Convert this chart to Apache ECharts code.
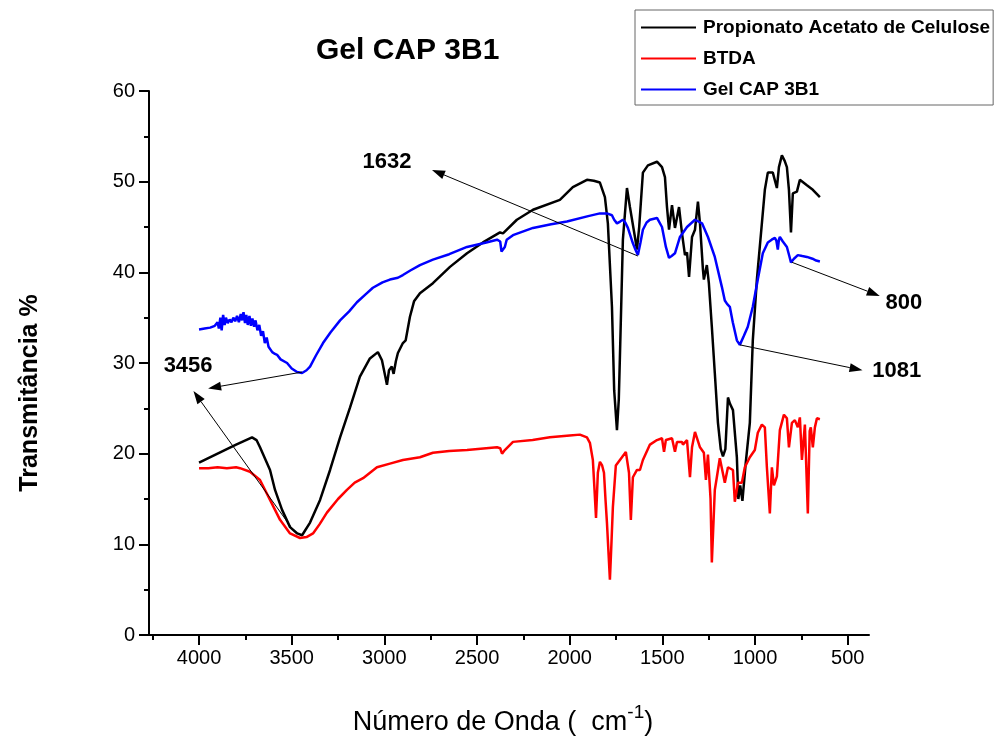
<!DOCTYPE html>
<html>
<head>
<meta charset="utf-8">
<script src="https://cdn.jsdelivr.net/npm/echarts@6/dist/echarts.min.js"></script>
<style>
html,body{margin:0;padding:0;background:#fff;}
#chart{width:994px;height:738px;}
</style>
</head>
<body>
<div id="chart"></div>
<script>
// ---------- DATA ----------
const seriesNames = ['Propionato Acetato de Celulose', 'BTDA', 'Gel CAP 3B1'];

const wavenumberCAP = [4000,3900,3800,3714,3690,3671,3617,3590,3552,3509,3470,3444,3401,3347,3293,3239,3185,3132,3078,3035,3013,2995,2986,2975,2960,2950,2938,2927,2900,2885,2878,2862,2840,2808,2738,2646,2554,2468,2376,2360,2285,2198,2053,1983,1907,1870,1837,1810,1794,1772,1760,1745,1735,1729,1713,1691,1675,1648,1637,1625,1605,1578,1529,1502,1486,1475,1464,1448,1432,1410,1394,1378,1367,1356,1340,1324,1308,1297,1281,1276,1260,1249,1233,1217,1200,1185,1173,1160,1146,1135,1119,1098,1090,1080,1068,1050,1028,1012,990,963,947,931,904,882,871,855,840,828,817,806,796,774,758,720,688,650];
const transmittanceCAP = [19.0,20.0,21.0,21.8,21.5,20.7,18.2,16.0,13.8,11.9,11.2,11.0,12.4,14.9,18.2,21.8,25.1,28.5,30.5,31.2,30.3,28.5,27.6,29.2,29.6,28.8,30.2,31.1,32.2,32.5,32.4,35.1,36.8,37.7,38.8,40.6,42.1,43.3,44.4,44.3,45.8,46.9,48.0,49.4,50.2,50.1,49.9,48.3,45.4,36.2,27.0,22.6,26.0,30.7,43.6,49.3,47.2,43.9,42.5,45.0,51.0,51.8,52.2,51.6,50.5,47.2,44.7,47.4,44.9,47.2,44.3,41.9,42.2,39.5,43.9,44.7,47.8,45.4,40.3,39.2,40.8,38.8,34.0,28.9,23.4,20.5,19.7,20.5,26.2,25.5,24.8,19.6,15.0,16.5,14.8,19.0,23.4,32.5,39.2,45.4,49.1,51.0,51.0,49.3,51.6,52.9,52.3,51.6,49.1,44.4,48.7,48.9,50.2,49.6,49.1,48.3];

const wavenumberBTDA = [4000,3950,3900,3850,3800,3779,3725,3671,3617,3563,3509,3455,3420,3385,3350,3310,3250,3202,3160,3115,3040,2970,2900,2808,2738,2650,2554,2392,2375,2365,2350,2306,2200,2107,2000,1945,1907,1891,1875,1866,1858,1848,1837,1825,1815,1807,1799,1783,1775,1767,1751,1718,1697,1680,1670,1659,1637,1621,1605,1567,1529,1502,1491,1481,1448,1432,1421,1394,1389,1367,1351,1340,1324,1297,1276,1265,1254,1240,1233,1217,1206,1190,1163,1146,1119,1109,1092,1071,1055,1028,1001,985,963,947,936,920,909,898,882,866,844,828,817,801,785,769,758,747,731,715,705,699,688,677,666,650];
const transmittanceBTDA = [18.4,18.4,18.5,18.4,18.5,18.4,18.0,17.1,14.9,12.7,11.2,10.7,10.8,11.2,12.2,13.5,15.0,16.0,16.8,17.3,18.5,18.9,19.3,19.6,20.1,20.3,20.4,20.7,20.6,20.0,20.4,21.3,21.5,21.8,22.0,22.1,21.8,21.2,19.3,16.0,12.9,17.9,19.1,18.7,17.9,15.0,12.4,6.1,10.0,14.1,18.7,19.6,20.2,17.9,12.7,17.4,18.2,18.2,19.3,21.0,21.5,21.7,20.2,21.5,21.7,20.2,21.3,21.3,21.0,21.5,17.4,20.7,22.4,20.7,20.1,17.1,19.9,15.0,8.0,16.0,17.4,19.5,16.8,18.5,18.2,14.7,16.8,16.8,18.5,19.6,20.4,22.3,23.2,22.9,18.5,13.4,18.5,16.5,17.5,22.6,24.3,23.9,20.7,23.4,23.7,22.9,24.0,19.3,23.2,13.4,22.5,22.9,20.7,22.9,23.9,23.8];

const wavenumberGel = [4000,3970,3940,3915,3900,3893,3885,3878,3870,3862,3855,3845,3835,3825,3815,3805,3795,3785,3775,3768,3760,3752,3745,3737,3728,3720,3712,3703,3695,3685,3675,3665,3655,3645,3635,3625,3615,3605,3590,3579,3560,3525,3500,3471,3444,3420,3401,3370,3331,3290,3239,3190,3148,3100,3062,3010,2970,2927,2900,2860,2808,2738,2650,2554,2450,2392,2375,2368,2360,2350,2340,2306,2198,2100,2015,1900,1837,1799,1772,1760,1745,1728,1713,1700,1686,1659,1645,1632,1618,1605,1585,1567,1529,1502,1481,1464,1450,1432,1405,1367,1324,1286,1254,1217,1179,1163,1150,1136,1120,1098,1082,1060,1039,1012,985,958,931,910,893,885,877,871,866,850,828,815,806,790,769,745,720,690,670,650];
const transmittanceGel = [33.7,33.8,33.9,34.1,34.5,33.8,35.0,33.6,35.3,34.2,35.0,34.4,34.8,34.5,35.0,34.6,35.2,34.5,35.4,34.7,35.6,34.4,35.3,34.2,35.2,34.1,34.9,34.0,34.7,33.6,34.2,33.0,33.5,32.2,32.8,31.8,32.0,31.2,31.0,30.9,30.4,30.0,29.4,29.0,28.9,29.2,29.6,30.8,32.2,33.4,34.7,35.7,36.7,37.6,38.3,38.9,39.2,39.4,39.7,40.2,40.8,41.4,42.0,42.8,43.3,43.6,43.4,42.3,42.2,42.8,43.6,44.1,44.9,45.3,45.6,46.2,46.5,46.5,46.3,45.8,45.4,45.6,45.8,45.5,44.9,43.2,42.5,41.9,43.3,44.7,45.5,45.8,46.0,45.0,42.8,41.6,41.8,42.1,43.9,45.0,45.8,45.4,43.9,41.7,38.4,36.9,36.5,36.2,34.5,32.5,32.0,33.0,34.0,36.2,39.2,42.1,43.3,43.6,43.8,43.5,42.5,43.6,43.9,43.4,42.8,41.8,41.1,41.5,41.9,41.8,41.7,41.5,41.3,41.2];

const xTickValues = [500,1000,1500,2000,2500,3000,3500,4000];
const xMinorTickValues = [750,1250,1750,2250,2750,3250,3750,4250];

// annotations (label text, label anchor, arrows from -> to, in data units)
const annotationTexts = ['1632', '800', '1081', '3456'];
const annotationLabelAt = [[2986, 52.2], [197, 36.6], [235, 29.1], [4059, 29.7]];
const annotationArrows = [
  [[1632, 41.8], [2743, 51.3]],
  [[800, 41.1], [327, 37.4]],
  [[1082, 32.0], [420, 29.2]],
  [[3444, 29.0], [3951, 27.2]],
  [[3493, 11.6], [4030, 26.9]]
];

// ---------- CHART ----------
const FONT = 'Arial, "Liberation Sans", sans-serif';
const chart = echarts.init(document.getElementById('chart'), null, {renderer: 'canvas'});

function zip(xs, ys) { return xs.map((x, i) => [x, ys[i]]); }

const colors = ['#000000', '#ff0000', '#0000ff'];
const seriesData = [zip(wavenumberCAP, transmittanceCAP), zip(wavenumberBTDA, transmittanceBTDA), zip(wavenumberGel, transmittanceGel)];

const option = {
  backgroundColor: '#fff',
  animation: false,
  title: {
    text: 'Gel CAP 3B1',
    left: 311, top: 31,
    textStyle: {fontFamily: FONT, fontSize: 30, fontWeight: 'bold', color: '#000'}
  },
  legend: {
    orient: 'vertical',
    left: 635, top: 10,
    padding: [8, 3, 6, 6],
    itemGap: 12,
    itemWidth: 55, itemHeight: 2,
    icon: 'rect',
    backgroundColor: '#fff',
    borderColor: '#666', borderWidth: 1,
    textStyle: {fontFamily: FONT, fontSize: 19, fontWeight: 'bold', color: '#000', padding: [0, 0, 0, 2]},
    data: seriesNames
  },
  grid: {left: 149, right: 125, top: 91, bottom: 103, containLabel: false, outerBoundsMode: 'none'},
  xAxis: [{
    type: 'value', inverse: true, min: 385, max: 4270,
    name: '{a|Número de Onda (  cm}{s|-1}{a|)}',
    nameLocation: 'middle', nameGap: 68,
    nameTextStyle: {
      padding: [0, 12, 0, 0],
      rich: {
        a: {fontFamily: FONT, fontSize: 27, color: '#000', lineHeight: 40},
        s: {fontFamily: FONT, fontSize: 19, color: '#000', verticalAlign: 'top', lineHeight: 40}
      }
    },
    splitLine: {show: false},
    axisLine: {show: true, lineStyle: {color: '#000', width: 2}},
    axisTick: {show: true, length: 10, lineStyle: {color: '#000', width: 2}, customValues: xTickValues},
    axisLabel: {show: true, fontFamily: FONT, fontSize: 20, color: '#000', margin: 13, customValues: xTickValues, formatter: v => String(v)}
  }, {
    type: 'value', inverse: true, min: 385, max: 4270, position: 'bottom',
    splitLine: {show: false},
    axisLine: {show: false},
    axisTick: {show: true, length: 5, lineStyle: {color: '#000', width: 2}, customValues: xMinorTickValues},
    axisLabel: {show: false}
  }],
  yAxis: {
    type: 'value', min: 0, max: 60, interval: 10,
    name: 'Transmitância %', nameLocation: 'middle', nameGap: 106, nameRotate: 90,
    nameTextStyle: {fontFamily: FONT, fontSize: 25, fontWeight: 'bold', color: '#000', padding: [0, 60, 0, 0]},
    splitLine: {show: false},
    axisLine: {show: true, lineStyle: {color: '#000', width: 2}},
    axisTick: {show: true, length: 10, lineStyle: {color: '#000', width: 2}},
    minorTick: {show: true, splitNumber: 2, length: 5, lineStyle: {color: '#000', width: 2}},
    axisLabel: {fontFamily: FONT, fontSize: 20, color: '#000', margin: 14}
  },
  series: seriesNames.map((n, i) => ({
    name: n, type: 'line', data: seriesData[i], showSymbol: false, symbol: 'none',
    xAxisIndex: 0, yAxisIndex: 0,
    lineStyle: {color: colors[i], width: 2.5}, itemStyle: {color: colors[i]},
    z: 2 + (i === 2 ? 1 : 0)
  }))
};
chart.setOption(option);

function px(p) { return chart.convertToPixel({seriesIndex: 0}, p); }
const graphics = [];
annotationArrows.forEach(([from, to]) => {
  const p0 = px(from), p1 = px(to);
  const dx = p1[0] - p0[0], dy = p1[1] - p0[1];
  const L = Math.hypot(dx, dy), ux = dx / L, uy = dy / L;
  const hl = 13, hw = 4.5;
  const bx = p1[0] - ux * hl, by = p1[1] - uy * hl;
  graphics.push({type: 'line', z: 10, shape: {x1: p0[0], y1: p0[1], x2: bx, y2: by}, style: {stroke: '#000', lineWidth: 1}});
  graphics.push({type: 'polygon', z: 10, shape: {points: [[p1[0], p1[1]], [bx - uy * hw, by + ux * hw], [bx + uy * hw, by - ux * hw]]}, style: {fill: '#000'}});
});
annotationTexts.forEach((t, i) => {
  const p = px(annotationLabelAt[i]);
  graphics.push({type: 'text', z: 10, x: p[0], y: p[1], style: {text: t, fontFamily: FONT, fontSize: 22, fontWeight: 'bold', fill: '#000', align: 'center', verticalAlign: 'middle'}});
});
chart.setOption({graphic: graphics});
</script>
</body>
</html>
